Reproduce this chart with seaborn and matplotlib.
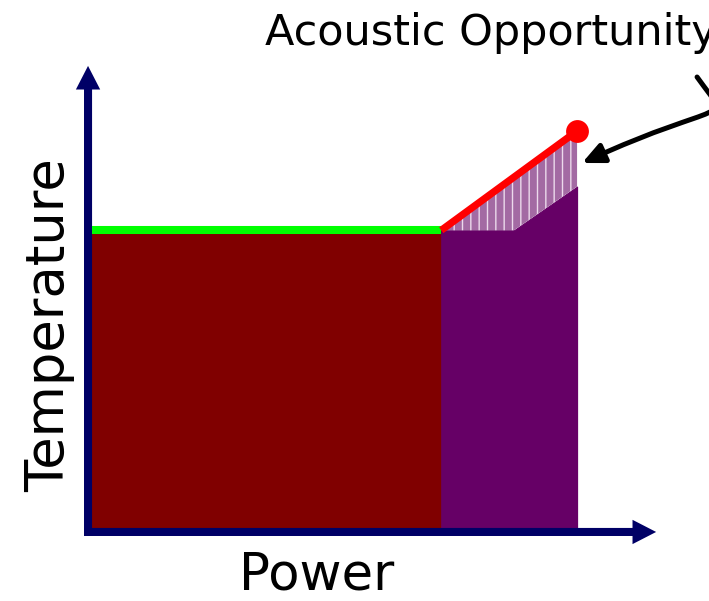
import matplotlib
matplotlib.use("Agg")
import matplotlib.pyplot as plt
from matplotlib.patches import FancyArrowPatch
from matplotlib.path import Path
import seaborn as sns
import pandas as pd

sns.set_style("white")
plt.rcParams["font.family"] = ["DejaVu Sans"]
plt.rcParams["hatch.linewidth"] = 1.0

# Power (% of maximum) breakpoints
power_base = [0, 72]            # region held at the temperature plateau
power_boost = [72, 87, 100]     # region beyond the plateau
# Temperature (% of maximum)
plateau_temp = [75, 75]         # green limit line over the base region
limit_temp = [75, 100]          # red limit line rising with power
actual_temp = [75, 75, 86]      # purple region top

label_x = "Power"
label_y = "Temperature"
callout = "Acoustic Opportunity"

navy = "#000066"
dark_red = "#800000"
purple = "#660066"

fig = plt.figure(figsize=(7.09, 6.01), dpi=100)
ax = fig.add_axes([0, 0, 1, 1])
ax.set_xlim(-18.97, 127.2)
ax.set_ylim(-18.39, 133.0)
ax.axis("off")

# filled regions
ax.fill_between(power_base, 0, plateau_temp, facecolor=dark_red,
                edgecolor=dark_red, lw=0.8, zorder=1)
ax.fill_between(power_boost, 0, actual_temp, facecolor=purple,
                edgecolor=purple, lw=0.8, zorder=1.1)
limit_interp = [limit_temp[0],
                limit_temp[0] + (limit_temp[1] - limit_temp[0]) * (power_boost[1] - power_boost[0]) / (power_boost[2] - power_boost[0]),
                limit_temp[1]]
ax.fill_between(power_boost, actual_temp, limit_interp, facecolor="#a36aa3",
                edgecolor="#ecdaec", hatch="||", lw=0, zorder=1.2)

# axes drawn as arrows
axis_style = "simple,head_length=17,head_width=17.5,tail_width=5.8"
ax.add_patch(FancyArrowPatch((-1.65, -1.0), (116.3, -1.0), arrowstyle=axis_style,
                             mutation_scale=1, color=navy, lw=0, shrinkA=0, shrinkB=0,
                             zorder=3))
ax.add_patch(FancyArrowPatch((-0.82, -2.0), (-0.82, 116.4), arrowstyle=axis_style,
                             mutation_scale=1, color=navy, lw=0, shrinkA=0, shrinkB=0,
                             zorder=3))

# limit lines
lines = pd.DataFrame({"power": power_base, "temp": plateau_temp})
sns.lineplot(data=lines, x="power", y="temp", color="#00ff00", lw=5.8, ax=ax,
             zorder=4, solid_capstyle="butt")
rise = pd.DataFrame({"power": [power_boost[0], power_boost[-1]], "temp": limit_temp})
sns.lineplot(data=rise, x="power", y="temp", color="#ff0000", lw=5.2, ax=ax,
             zorder=5, solid_capstyle="butt")
sns.scatterplot(x=[power_boost[-1]], y=[limit_temp[-1]], color="#ff0000", s=270,
                linewidth=0, ax=ax, zorder=6)

# axis labels
ax.text(46.4, -15.6, label_x, fontsize=37, color="black", ha="center", va="baseline")
ax.text(-8.87, 51.1, label_y, fontsize=38, color="black", rotation=90,
        ha="center", va="center")

# callout with curved arrow
ax.text(35.67, 121.66, callout, fontsize=31, color="black", ha="left",
        va="baseline", clip_on=False)
curve = Path([(124.74, 113.60), (131.96, 101.26), (131.13, 108.82), (101.03, 91.94)],
             [Path.MOVETO, Path.CURVE4, Path.CURVE4, Path.CURVE4])
ax.add_patch(FancyArrowPatch(path=curve, arrowstyle="-|>,head_length=13,head_width=6",
                             mutation_scale=1, color="black", lw=3.6, clip_on=False,
                             zorder=6))

fig.savefig("out.png", dpi=100)
